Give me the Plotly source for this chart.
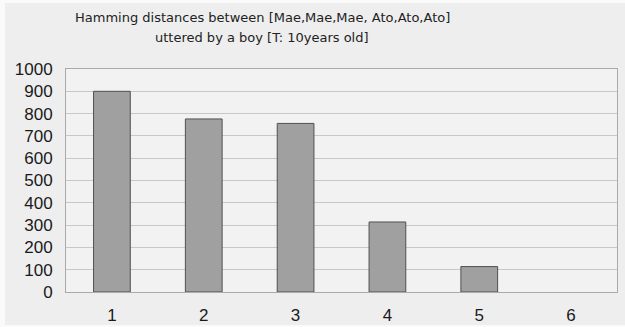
import plotly.graph_objects as go

categories = ["1", "2", "3", "4", "5", "6"]
values = [900, 776, 756, 314, 114, 0]
y_ticks = [0, 100, 200, 300, 400, 500, 600, 700, 800, 900, 1000]
title_lines = ["Hamming distances between [Mae,Mae,Mae, Ato,Ato,Ato]",
               "uttered by a boy [T: 10years old]"]

fig = go.Figure(go.Bar(
    x=categories, y=values,
    marker=dict(color="#a0a0a0",
                line=dict(color="#505050", width=[1 if v > 0 else 0 for v in values])),
    width=0.4,
))

fig.update_layout(
    width=620, height=322,
    paper_bgcolor="#eeeeee",
    plot_bgcolor="#f2f2f2",
    margin=dict(l=61, r=8, t=66, b=33, autoexpand=False),
    showlegend=False,
    font=dict(family="Liberation Sans, Arial, sans-serif", color="#222222"),
)
tfont = dict(family="DejaVu Sans, sans-serif", size=13, color="#222222")
fig.add_annotation(text=title_lines[0], xref="paper", yref="paper",
                   x=0.356, y=1.23, xanchor="center", yanchor="middle",
                   showarrow=False, font=tfont)
fig.add_annotation(text=title_lines[1], xref="paper", yref="paper",
                   x=0.356, y=1.14, xanchor="center", yanchor="middle",
                   showarrow=False, font=tfont)
fig.update_yaxes(
    range=[0, 1000], tickvals=y_ticks,
    showgrid=True, gridcolor="#c8c8c8", gridwidth=1,
    showline=True, linecolor="#aaaaaa", mirror=True,
    tickfont=dict(size=17, color="#1a1a1a"),
    ticks="", zeroline=False, ticklabelstandoff=9,
)
fig.update_xaxes(
    showline=True, linecolor="#aaaaaa", mirror=True,
    tickfont=dict(size=17, color="#1a1a1a"),
    ticks="", ticklabelstandoff=8,
)
fig.write_html(
    "out.html",
    post_script="document.body.style.margin='3px 0 0 5px';document.body.style.background='#fafafa';",
)
